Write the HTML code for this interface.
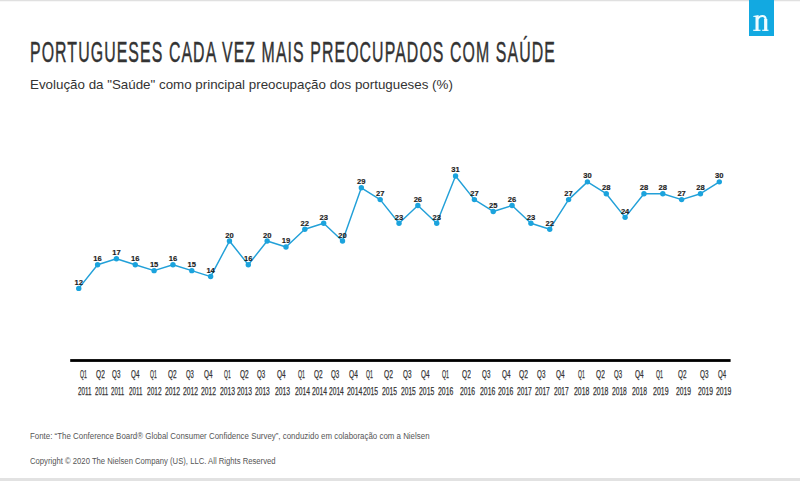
<!DOCTYPE html>
<html><head><meta charset="utf-8">
<style>
html,body{margin:0;padding:0;}
body{width:800px;height:481px;position:relative;overflow:hidden;background:#fff;font-family:"Liberation Sans",sans-serif;}
.topbar{position:absolute;left:0;top:0;width:800px;height:1px;background:#e0e0e0;border-bottom:1px solid #f7f7f7;}
.botbar{position:absolute;left:0;top:478px;width:800px;height:3px;background:#e2e2e2;}
.logo{position:absolute;left:749px;top:0;width:25px;height:36px;background:#12a9e1;}
.title{position:absolute;left:30px;top:35.5px;font-size:29.2px;color:#333;white-space:nowrap;transform-origin:0 0;transform:scaleX(0.5438);letter-spacing:2.0px;-webkit-text-stroke:0.45px #333;}
.sub{position:absolute;left:30px;top:77px;font-size:13px;color:#333;white-space:nowrap;transform-origin:0 0;transform:scaleX(1.027);}
.foot{position:absolute;left:30px;font-size:8.5px;color:#555;white-space:nowrap;transform-origin:0 0;}
.ql,.yl{position:absolute;font-size:11px;color:#333;-webkit-text-stroke:0.25px #333;white-space:nowrap;line-height:1;transform-origin:0 0;}
.ql{top:369px;}
.yl{top:386px;}
svg{position:absolute;left:0;top:0;}
</style></head><body>
<div class="topbar"></div>
<div class="logo"><svg width="25" height="36" viewBox="0 0 25 36"><g fill="#effcff">
<path d="M4.2 15.9 L9.6 15.0 L9.6 30.9 L6.5 30.9 L6.5 17.0 L4.2 16.8 Z"/>
<rect x="4.2" y="29.7" width="7.3" height="1.2"/>
<rect x="13.2" y="29.7" width="6.3" height="1.2"/>
<rect x="15.1" y="19" width="3.2" height="11.9"/>
</g>
<path d="M8.6 19 C 10 16.6, 11.8 16.0, 13.4 16.0 C 15.6 16.0, 16.7 17.2, 16.7 19.8" fill="none" stroke="#effcff" stroke-width="2.2"/>
</svg></div>
<div class="title">PORTUGUESES CADA VEZ MAIS PREOCUPADOS COM SAÚDE</div>
<div class="sub">Evolução da "Saúde" como principal preocupação dos portugueses (%)</div>
<svg width="800" height="481">
<rect x="70.2" y="359.1" width="660.4" height="2.8" fill="#000"/>
<polyline points="78.75,288.41 97.59,264.73 116.43,258.81 135.27,264.73 154.11,270.65 172.95,264.73 191.79,270.65 210.63,276.57 229.47,241.05 248.31,264.73 267.15,241.05 285.99,246.97 304.83,229.21 323.67,223.29 342.51,241.05 361.35,187.77 380.19,199.61 399.03,223.29 417.87,205.53 436.71,223.29 455.55,175.93 474.39,199.61 493.23,211.45 512.07,205.53 530.91,223.29 549.75,229.21 568.59,199.61 587.43,181.85 606.27,193.69 625.11,217.37 643.95,193.69 662.79,193.69 681.63,199.61 700.47,193.69 719.31,181.85" fill="none" stroke="#22a0d8" stroke-width="1.45" stroke-linejoin="round"/>
<g fill="#1ba3dd">
<circle cx="78.75" cy="288.41" r="2.7"/>
<circle cx="97.59" cy="264.73" r="2.7"/>
<circle cx="116.43" cy="258.81" r="2.7"/>
<circle cx="135.27" cy="264.73" r="2.7"/>
<circle cx="154.11" cy="270.65" r="2.7"/>
<circle cx="172.95" cy="264.73" r="2.7"/>
<circle cx="191.79" cy="270.65" r="2.7"/>
<circle cx="210.63" cy="276.57" r="2.7"/>
<circle cx="229.47" cy="241.05" r="2.7"/>
<circle cx="248.31" cy="264.73" r="2.7"/>
<circle cx="267.15" cy="241.05" r="2.7"/>
<circle cx="285.99" cy="246.97" r="2.7"/>
<circle cx="304.83" cy="229.21" r="2.7"/>
<circle cx="323.67" cy="223.29" r="2.7"/>
<circle cx="342.51" cy="241.05" r="2.7"/>
<circle cx="361.35" cy="187.77" r="2.7"/>
<circle cx="380.19" cy="199.61" r="2.7"/>
<circle cx="399.03" cy="223.29" r="2.7"/>
<circle cx="417.87" cy="205.53" r="2.7"/>
<circle cx="436.71" cy="223.29" r="2.7"/>
<circle cx="455.55" cy="175.93" r="2.7"/>
<circle cx="474.39" cy="199.61" r="2.7"/>
<circle cx="493.23" cy="211.45" r="2.7"/>
<circle cx="512.07" cy="205.53" r="2.7"/>
<circle cx="530.91" cy="223.29" r="2.7"/>
<circle cx="549.75" cy="229.21" r="2.7"/>
<circle cx="568.59" cy="199.61" r="2.7"/>
<circle cx="587.43" cy="181.85" r="2.7"/>
<circle cx="606.27" cy="193.69" r="2.7"/>
<circle cx="625.11" cy="217.37" r="2.7"/>
<circle cx="643.95" cy="193.69" r="2.7"/>
<circle cx="662.79" cy="193.69" r="2.7"/>
<circle cx="681.63" cy="199.61" r="2.7"/>
<circle cx="700.47" cy="193.69" r="2.7"/>
<circle cx="719.31" cy="181.85" r="2.7"/>
</g>
<g font-family="Liberation Sans" font-weight="bold" font-size="7.6" fill="#1c1c1c" stroke="#1c1c1c" stroke-width="0.15" text-anchor="middle">
<text x="78.75" y="284.91">12</text>
<text x="97.59" y="261.23">16</text>
<text x="116.43" y="255.31">17</text>
<text x="135.27" y="261.23">16</text>
<text x="154.11" y="267.15">15</text>
<text x="172.95" y="261.23">16</text>
<text x="191.79" y="267.15">15</text>
<text x="210.63" y="273.07">14</text>
<text x="229.47" y="237.55">20</text>
<text x="248.31" y="261.23">16</text>
<text x="267.15" y="237.55">20</text>
<text x="285.99" y="243.47">19</text>
<text x="304.83" y="225.71">22</text>
<text x="323.67" y="219.79">23</text>
<text x="342.51" y="237.55">20</text>
<text x="361.35" y="184.27">29</text>
<text x="380.19" y="196.11">27</text>
<text x="399.03" y="219.79">23</text>
<text x="417.87" y="202.03">26</text>
<text x="436.71" y="219.79">23</text>
<text x="455.55" y="172.43">31</text>
<text x="474.39" y="196.11">27</text>
<text x="493.23" y="207.95">25</text>
<text x="512.07" y="202.03">26</text>
<text x="530.91" y="219.79">23</text>
<text x="549.75" y="225.71">22</text>
<text x="568.59" y="196.11">27</text>
<text x="587.43" y="178.35">30</text>
<text x="606.27" y="190.19">28</text>
<text x="625.11" y="213.87">24</text>
<text x="643.95" y="190.19">28</text>
<text x="662.79" y="190.19">28</text>
<text x="681.63" y="196.11">27</text>
<text x="700.47" y="190.19">28</text>
<text x="719.31" y="178.35">30</text>
</g>
</svg>
<div class="ql" style="left:80.20px;transform:scaleX(0.471)">Q1</div>
<div class="yl" style="left:77.80px;transform:scaleX(0.574)">2011</div>
<div class="ql" style="left:95.80px;transform:scaleX(0.600)">Q2</div>
<div class="yl" style="left:94.75px;transform:scaleX(0.554)">2011</div>
<div class="ql" style="left:111.70px;transform:scaleX(0.570)">Q3</div>
<div class="yl" style="left:110.50px;transform:scaleX(0.554)">2011</div>
<div class="ql" style="left:130.75px;transform:scaleX(0.570)">Q4</div>
<div class="yl" style="left:129.00px;transform:scaleX(0.565)">2011</div>
<div class="ql" style="left:150.25px;transform:scaleX(0.461)">Q1</div>
<div class="yl" style="left:147.25px;transform:scaleX(0.594)">2012</div>
<div class="ql" style="left:167.50px;transform:scaleX(0.589)">Q2</div>
<div class="yl" style="left:165.00px;transform:scaleX(0.617)">2012</div>
<div class="ql" style="left:185.70px;transform:scaleX(0.540)">Q3</div>
<div class="yl" style="left:183.00px;transform:scaleX(0.612)">2012</div>
<div class="ql" style="left:204.00px;transform:scaleX(0.580)">Q4</div>
<div class="yl" style="left:201.00px;transform:scaleX(0.612)">2012</div>
<div class="ql" style="left:223.80px;transform:scaleX(0.461)">Q1</div>
<div class="yl" style="left:220.20px;transform:scaleX(0.617)">2013</div>
<div class="ql" style="left:239.50px;transform:scaleX(0.593)">Q2</div>
<div class="yl" style="left:237.00px;transform:scaleX(0.612)">2013</div>
<div class="ql" style="left:256.80px;transform:scaleX(0.560)">Q3</div>
<div class="yl" style="left:254.50px;transform:scaleX(0.604)">2013</div>
<div class="ql" style="left:277.20px;transform:scaleX(0.587)">Q4</div>
<div class="yl" style="left:275.00px;transform:scaleX(0.617)">2013</div>
<div class="ql" style="left:297.80px;transform:scaleX(0.482)">Q1</div>
<div class="yl" style="left:294.50px;transform:scaleX(0.612)">2014</div>
<div class="ql" style="left:314.00px;transform:scaleX(0.589)">Q2</div>
<div class="yl" style="left:311.75px;transform:scaleX(0.612)">2014</div>
<div class="ql" style="left:330.50px;transform:scaleX(0.567)">Q3</div>
<div class="yl" style="left:328.70px;transform:scaleX(0.606)">2014</div>
<div class="ql" style="left:349.25px;transform:scaleX(0.600)">Q4</div>
<div class="yl" style="left:347.00px;transform:scaleX(0.625)">2014</div>
<div class="ql" style="left:366.20px;transform:scaleX(0.471)">Q1</div>
<div class="yl" style="left:363.00px;transform:scaleX(0.615)">2015</div>
<div class="ql" style="left:383.75px;transform:scaleX(0.611)">Q2</div>
<div class="yl" style="left:381.80px;transform:scaleX(0.612)">2015</div>
<div class="ql" style="left:403.30px;transform:scaleX(0.580)">Q3</div>
<div class="yl" style="left:401.20px;transform:scaleX(0.606)">2015</div>
<div class="ql" style="left:421.30px;transform:scaleX(0.580)">Q4</div>
<div class="yl" style="left:418.75px;transform:scaleX(0.625)">2015</div>
<div class="ql" style="left:442.45px;transform:scaleX(0.482)">Q1</div>
<div class="yl" style="left:438.25px;transform:scaleX(0.625)">2016</div>
<div class="ql" style="left:461.80px;transform:scaleX(0.600)">Q2</div>
<div class="yl" style="left:459.70px;transform:scaleX(0.617)">2016</div>
<div class="ql" style="left:482.20px;transform:scaleX(0.570)">Q3</div>
<div class="yl" style="left:479.50px;transform:scaleX(0.625)">2016</div>
<div class="ql" style="left:502.00px;transform:scaleX(0.580)">Q4</div>
<div class="yl" style="left:498.25px;transform:scaleX(0.625)">2016</div>
<div class="ql" style="left:518.70px;transform:scaleX(0.611)">Q2</div>
<div class="yl" style="left:516.75px;transform:scaleX(0.606)">2017</div>
<div class="ql" style="left:537.45px;transform:scaleX(0.570)">Q3</div>
<div class="yl" style="left:535.20px;transform:scaleX(0.606)">2017</div>
<div class="ql" style="left:556.00px;transform:scaleX(0.583)">Q4</div>
<div class="yl" style="left:553.80px;transform:scaleX(0.600)">2017</div>
<div class="ql" style="left:578.00px;transform:scaleX(0.468)">Q1</div>
<div class="yl" style="left:574.20px;transform:scaleX(0.625)">2018</div>
<div class="ql" style="left:595.80px;transform:scaleX(0.600)">Q2</div>
<div class="yl" style="left:592.80px;transform:scaleX(0.625)">2018</div>
<div class="ql" style="left:614.25px;transform:scaleX(0.550)">Q3</div>
<div class="yl" style="left:611.70px;transform:scaleX(0.606)">2018</div>
<div class="ql" style="left:634.70px;transform:scaleX(0.590)">Q4</div>
<div class="yl" style="left:632.30px;transform:scaleX(0.613)">2018</div>
<div class="ql" style="left:656.00px;transform:scaleX(0.482)">Q1</div>
<div class="yl" style="left:652.70px;transform:scaleX(0.637)">2019</div>
<div class="ql" style="left:678.20px;transform:scaleX(0.579)">Q2</div>
<div class="yl" style="left:675.50px;transform:scaleX(0.613)">2019</div>
<div class="ql" style="left:699.80px;transform:scaleX(0.580)">Q3</div>
<div class="yl" style="left:697.55px;transform:scaleX(0.613)">2019</div>
<div class="ql" style="left:718.25px;transform:scaleX(0.550)">Q4</div>
<div class="yl" style="left:715.55px;transform:scaleX(0.625)">2019</div>
<div class="foot" style="top:430.5px;transform:scaleX(0.93)">Fonte: “The Conference Board® Global Consumer Confidence Survey”, conduzido em colaboração com a Nielsen</div>
<div class="foot" style="top:456.3px;transform:scaleX(0.904)">Copyright © 2020 The Nielsen Company (US), LLC. All Rights Reserved</div>
<div class="botbar"></div>
</body></html>
